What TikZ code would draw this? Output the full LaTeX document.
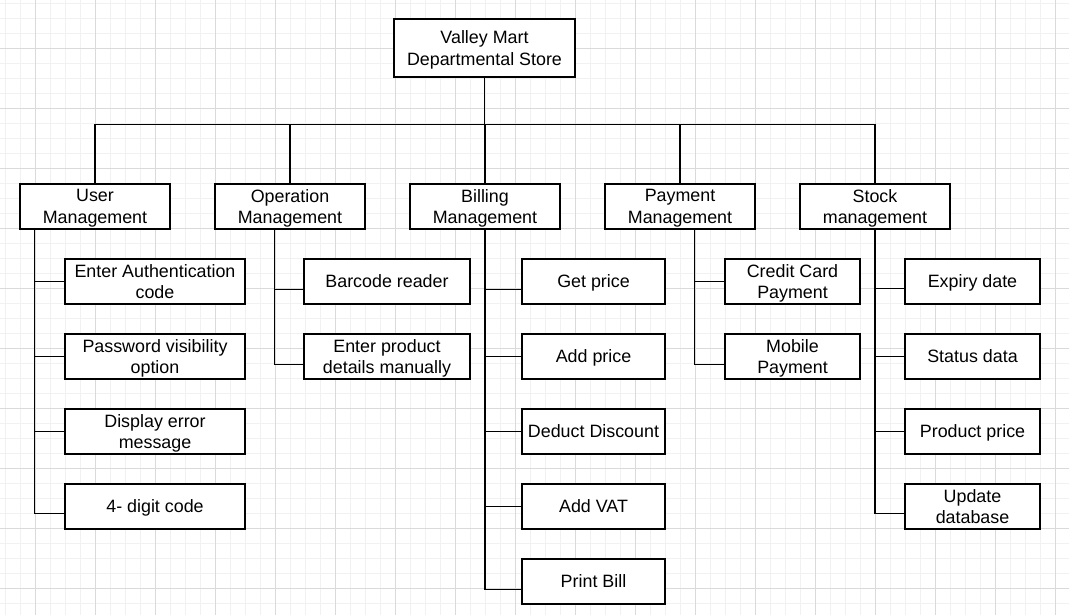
\documentclass[tikz,border=0pt]{standalone}
\usepackage{fontspec}
\setmainfont{Liberation Sans}
\usepackage{xcolor}
\usetikzlibrary{calc}
\definecolor{gridminor}{RGB}{241,241,241}
\definecolor{gridmajor}{RGB}{218,218,218}
\tikzset{
  box/.style={draw, line width=1.1pt, fill=white, inner sep=0pt, align=center,
    text depth=0pt, font=\fontsize{13.4}{16.2}\selectfont},
  link/.style={line width=1.1pt}
}
\begin{document}
\begin{tikzpicture}[x=0.75pt, y=-0.75pt]
    \useasboundingbox (0,0) rectangle (1069,615);
    \fill[white] (0,0) rectangle (1069,615);
    % background grid
    \foreach \gx in {5,20,...,1069} \draw[gridminor, line width=0.6pt] (\gx,0) -- (\gx,615);
    \foreach \gy in {3,18,...,615} \draw[gridminor, line width=0.6pt] (0,\gy) -- (1069,\gy);
    \foreach \gx in {35,95,...,1069} \draw[gridmajor, line width=0.6pt] (\gx,0) -- (\gx,615);
    \foreach \gy in {48,108,...,615} \draw[gridmajor, line width=0.6pt] (0,\gy) -- (1069,\gy);
    % top
    \node[box, minimum width=181*0.75pt, minimum height=58*0.75pt] (store) at (484.5,48) {Valley Mart\\Departmental Store};
    % modules
    \node[box, minimum width=150*0.75pt, minimum height=45*0.75pt] (user) at (95,206.5) {User\\Management};
    \node[box, minimum width=150*0.75pt, minimum height=45*0.75pt] (oper) at (290,206.5) {Operation\\Management};
    \node[box, minimum width=150*0.75pt, minimum height=45*0.75pt] (bill) at (485,206.5) {Billing\\Management};
    \node[box, minimum width=150*0.75pt, minimum height=45*0.75pt] (pay) at (680,206.5) {Payment\\Management};
    \node[box, minimum width=150*0.75pt, minimum height=45*0.75pt] (stock) at (875,206.5) {Stock\\management};
    \foreach \m in {user,oper,bill,pay,stock}
      \draw[link] (store.south) -- ++(0,47) -| (\m.north);
    % user management
    \node[box, minimum width=180*0.75pt, minimum height=45*0.75pt] (auth) at (155,281.5) {Enter Authentication\\code};
    \node[box, minimum width=180*0.75pt, minimum height=45*0.75pt] (pwd) at (155,356.5) {Password visibility\\option};
    \node[box, minimum width=180*0.75pt, minimum height=45*0.75pt] (err) at (155,431.5) {Display error\\message};
    \node[box, minimum width=180*0.75pt, minimum height=45*0.75pt] (digit) at (155,506.5) {4- digit code};
    \draw[link] ($(user.south west)+(15,0)$) |- (auth.west);
    \draw[link] ($(user.south west)+(15,0)$) |- (pwd.west);
    \draw[link] ($(user.south west)+(15,0)$) |- (err.west);
    \draw[link] ($(user.south west)+(15,0)$) |- ($(digit.west)+(0,7)$);
    % operation management
    \node[box, minimum width=166*0.75pt, minimum height=45*0.75pt] (barcode) at (387,281.5) {Barcode reader};
    \node[box, minimum width=166*0.75pt, minimum height=45*0.75pt] (manual) at (387,356.5) {Enter product\\details manually};
    \draw[link] ($(oper.south west)+(60,0)$) |- ($(barcode.west)+(0,8)$);
    \draw[link] ($(oper.south west)+(60,0)$) |- ($(manual.west)+(0,8)$);
    % billing management
    \node[box, minimum width=143*0.75pt, minimum height=45*0.75pt] (getp) at (593.5,281.5) {Get price};
    \node[box, minimum width=143*0.75pt, minimum height=45*0.75pt] (addp) at (593.5,356.5) {Add price};
    \node[box, minimum width=143*0.75pt, minimum height=45*0.75pt] (disc) at (593.5,431.5) {Deduct Discount};
    \node[box, minimum width=143*0.75pt, minimum height=45*0.75pt] (vat) at (593.5,506.5) {Add VAT};
    \node[box, minimum width=143*0.75pt, minimum height=45*0.75pt] (print) at (593.5,581.5) {Print Bill};
    \draw[link] (bill.south) |- ($(getp.west)+(0,8)$);
    \draw[link] (bill.south) |- (addp.west);
    \draw[link] (bill.south) |- (disc.west);
    \draw[link] (bill.south) |- (vat.west);
    \draw[link] (bill.south) |- ($(print.west)+(0,8)$);
    % payment management
    \node[box, minimum width=135*0.75pt, minimum height=45*0.75pt] (card) at (792.5,281.5) {Credit Card\\Payment};
    \node[box, minimum width=135*0.75pt, minimum height=45*0.75pt] (mobile) at (792.5,356.5) {Mobile\\Payment};
    \draw[link] ($(pay.south west)+(90,0)$) |- (card.west);
    \draw[link] ($(pay.south west)+(90,0)$) |- ($(mobile.west)+(0,8)$);
    % stock management
    \node[box, minimum width=135*0.75pt, minimum height=45*0.75pt] (expiry) at (972.5,281.5) {Expiry date};
    \node[box, minimum width=135*0.75pt, minimum height=45*0.75pt] (status) at (972.5,356.5) {Status data};
    \node[box, minimum width=135*0.75pt, minimum height=45*0.75pt] (prodp) at (972.5,431.5) {Product price};
    \node[box, minimum width=135*0.75pt, minimum height=45*0.75pt] (update) at (972.5,506.5) {Update\\database};
    \draw[link] (stock.south) |- ($(expiry.west)+(0,7)$);
    \draw[link] (stock.south) |- (status.west);
    \draw[link] (stock.south) |- (prodp.west);
    \draw[link] (stock.south) |- ($(update.west)+(0,7)$);
\end{tikzpicture}
\end{document}
